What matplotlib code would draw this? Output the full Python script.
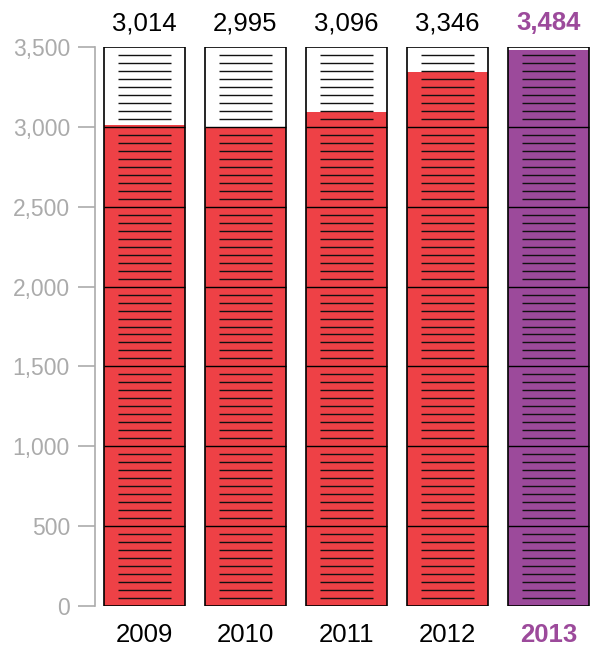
import matplotlib.pyplot as plt
import numpy as np

# data
years = ['2009', '2010', '2011', '2012', '2013']
values = [3014, 2995, 3096, 3346, 3484]
highlight = '2013'

y_max = 3500
major_step = 500
minor_step = 50

red = '#ee4146'
purple = '#9c4a9b'
grey = '#ababab'

plt.rcParams['font.family'] = ['Liberation Sans', 'DejaVu Sans']

fig = plt.figure(figsize=(5.94, 6.48), dpi=100)
ax = fig.add_axes([95 / 594, 42 / 648, 499 / 594, 559 / 648])

x = np.arange(len(years))
bar_w = 0.80
tick_half = 0.262

for i, (yr, v) in enumerate(zip(years, values)):
    col = purple if yr == highlight else red
    # empty scale box up to the top of the axis
    ax.bar(i, y_max, width=bar_w, color='white', edgecolor='none', zorder=1)
    ax.bar(i, v, width=bar_w, color=col, edgecolor='none', zorder=2)
    # short marks every 50
    minor = [m for m in np.arange(minor_step, y_max, minor_step) if m % major_step != 0]
    ax.hlines(minor, i - tick_half, i + tick_half, color='#111111', lw=1.0, zorder=3)
    # full-width marks every 500
    major = np.arange(major_step, y_max, major_step)
    ax.hlines(major, i - bar_w / 2, i + bar_w / 2, color='black', lw=1.0, zorder=3)
    ax.bar(i, y_max, width=bar_w, color='none', edgecolor='black', lw=1.2, zorder=4)

    # value label above the box
    if yr == highlight:
        ax.text(i, y_max + 150, f'{v:,}', ha='center', va='center', fontsize=18.5,
                color=purple, fontweight='bold')
    else:
        ax.text(i, y_max + 150, f'{v:,}', ha='center', va='center', fontsize=18.5,
                color='black')

ax.set_xlim(-0.49, -0.49 + 499 / 101)
ax.set_ylim(0, y_max)
ax.set_yticks(np.arange(0, y_max + 1, major_step))
ax.set_yticklabels([f'{t:,}' for t in np.arange(0, y_max + 1, major_step)])
ax.tick_params(axis='y', colors=grey, labelcolor=grey, length=12, width=1.2,
               labelsize=16.5, pad=6)

ax.set_xticks(x)
ax.set_xticklabels(years, fontsize=18.5)
ax.tick_params(axis='x', length=0, pad=12)
for lbl in ax.get_xticklabels():
    if lbl.get_text() == highlight:
        lbl.set_color(purple)
        lbl.set_fontweight('bold')

for s in ['top', 'right', 'bottom']:
    ax.spines[s].set_visible(False)
ax.spines['left'].set_color(grey)
ax.spines['left'].set_linewidth(1.2)

fig.savefig('out.png', dpi=100)
